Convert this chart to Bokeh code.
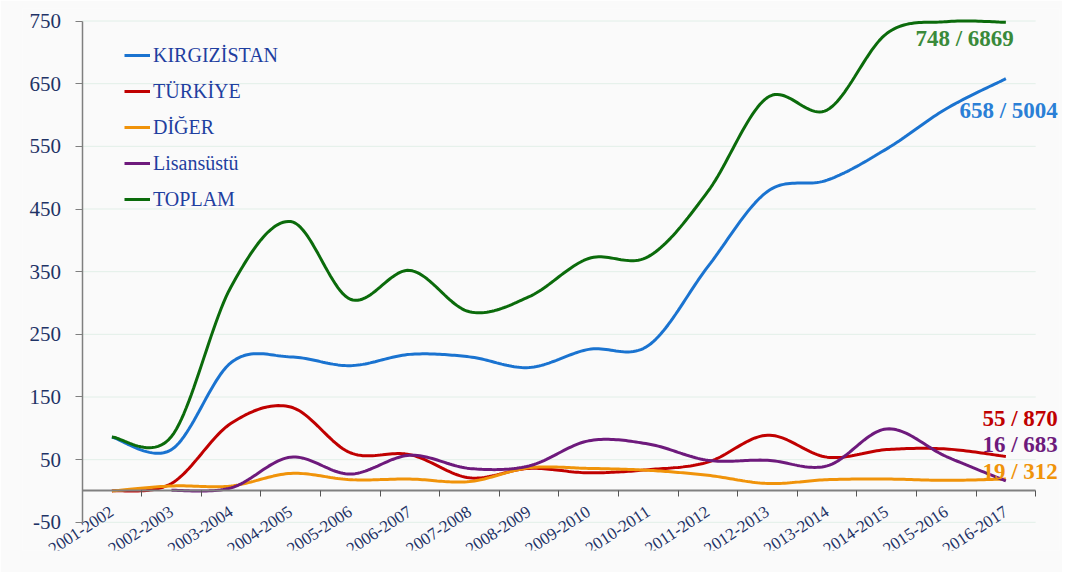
import numpy as np
from bokeh.plotting import figure
from bokeh.models import FixedTicker, Legend, LegendItem, Label, ColumnDataSource
from bokeh.embed import file_html
from bokeh.resources import INLINE

years = ["2001-2002", "2002-2003", "2003-2004", "2004-2005", "2005-2006", "2006-2007",
         "2007-2008", "2008-2009", "2009-2010", "2010-2011", "2011-2012", "2012-2013",
         "2013-2014", "2014-2015", "2015-2016", "2016-2017"]

kirgizistan = [86, 66, 205, 214, 200, 218, 214, 197, 226, 232, 358, 478, 496, 546, 610, 658]
turkiye = [0, 12, 108, 134, 61, 58, 21, 36, 29, 34, 46, 89, 54, 66, 67, 55]
diger = [0, 8, 8, 28, 18, 19, 15, 37, 36, 33, 25, 12, 18, 19, 17, 19]
lisansustu = [None, 1, 5, 54, 27, 57, 36, 40, 80, 75, 49, 49, 40, 99, 55, 16]
toplam = [86, 87, 326, 430, 306, 352, 286, 310, 371, 374, 478, 628, 608, 730, 749, 748]

series_names = ["KIRGIZİSTAN", "TÜRKİYE", "DİĞER", "Lisansüstü", "TOPLAM"]
series_totals = [5004, 870, 312, 683, 6869]
line_colors = ["#1a73d0", "#c00000", "#f0930a", "#6e1a7c", "#0b6b0b"]
label_colors = ["#2a7fd6", "#c00000", "#f0930a", "#6e1a7c", "#3a8a3a"]
label_offsets = [(52, -32), (52, 38), (52, 8), (52, 36), (8, -16)]

yticks = list(range(-50, 751, 100))
SERIF = "'Liberation Serif'"


def smooth(xs, ys, n=24):
    pts = [(x, y) for x, y in zip(xs, ys) if y is not None]
    px = np.array([p[0] for p in pts], float)
    py = np.array([p[1] for p in pts], float)
    m = len(px)
    ox, oy = [], []
    for i in range(m - 1):
        i0 = i - 1 if i > 0 else i
        i3 = i + 2 if i + 2 < m else i + 1
        x0, x1, x2, x3 = px[i0], px[i], px[i + 1], px[i3]
        y0, y1, y2, y3 = py[i0], py[i], py[i + 1], py[i3]
        c1x, c1y = x1 + (x2 - x0) / 6, y1 + (y2 - y0) / 6
        c2x, c2y = x2 - (x3 - x1) / 6, y2 - (y3 - y1) / 6
        t = np.linspace(0, 1, n, endpoint=(i == m - 2))
        a, b, c, d = (1 - t) ** 3, 3 * t * (1 - t) ** 2, 3 * t ** 2 * (1 - t), t ** 3
        ox.extend(a * x1 + b * c1x + c * c2x + d * x2)
        oy.extend(a * y1 + b * c1y + c * c2y + d * y2)
    return ox, oy


xs = list(range(len(years)))
x_lo, x_hi = xs[0] - 0.5, xs[-1] + 0.5

p = figure(width=1062, height=572, output_backend="svg", toolbar_location=None,
           x_range=(xs[0] - 1.5, xs[-1] + 0.9), y_range=(-95, 770),
           min_border_left=22, min_border_top=8, min_border_right=3, min_border_bottom=22)
p.background_fill_color = "#fafafa"
p.border_fill_color = "#fafafa"
p.outline_line_color = None

# horizontal grid lines limited to the category span
p.segment(x0=[x_lo] * len(yticks), x1=[x_hi] * len(yticks), y0=yticks, y1=yticks,
          line_color="#e2efe8", line_width=1)
p.xgrid.visible = False
p.ygrid.visible = False

all_series = [kirgizistan, turkiye, diger, lisansustu, toplam]
renderers = []
for vals, col in zip(all_series, line_colors):
    sx, sy = smooth(xs, vals)
    src = ColumnDataSource(dict(x=sx, y=sy))
    r = p.line("x", "y", source=src, line_color=col, line_width=3)
    renderers.append(r)

# y axis at the left edge of the category span
p.yaxis.fixed_location = x_lo
p.yaxis.ticker = FixedTicker(ticks=yticks)
p.yaxis.major_label_overrides = {t: str(t) for t in yticks}
p.yaxis.bounds = (yticks[0], yticks[-1])
p.yaxis.axis_line_color = "#7f7f7f"
p.yaxis.axis_line_width = 1.5
p.yaxis.major_tick_line_color = "#7f7f7f"
p.yaxis.major_tick_out = 7
p.yaxis.major_tick_in = 0
p.yaxis.minor_tick_line_color = None
p.yaxis.major_label_text_font = SERIF
p.yaxis.major_label_text_font_size = "21px"
p.yaxis.major_label_text_color = "#1f3366"
p.yaxis.major_label_standoff = 14

# x axis at y = 0
p.xaxis.fixed_location = 0
p.xaxis.bounds = (x_lo, x_hi)
p.xaxis.ticker = FixedTicker(ticks=xs, minor_ticks=[k - 0.5 for k in range(len(years) + 1)])
p.xaxis.major_label_overrides = {i: y for i, y in enumerate(years)}
p.xaxis.major_label_orientation = 0.58
p.xaxis.major_tick_out = 0
p.xaxis.major_tick_in = 0
p.xaxis.minor_tick_out = 6
p.xaxis.minor_tick_in = 0
p.xaxis.minor_tick_line_color = "#555555"
p.xaxis.axis_line_color = "#808080"
p.xaxis.axis_line_width = 2
p.xaxis.major_label_text_font = SERIF
p.xaxis.major_label_text_font_size = "17px"
p.xaxis.major_label_text_color = "#1f3366"
p.xaxis.major_label_standoff = 13

legend = Legend(items=[LegendItem(label=n, renderers=[r]) for n, r in zip(series_names, renderers)],
                location=(102, 339), border_line_alpha=0, background_fill_alpha=0,
                label_text_font=SERIF, label_text_font_size="20px",
                label_text_color="#1f3fa0", glyph_width=26, glyph_height=24,
                label_height=24, spacing=12, padding=0, margin=0, label_standoff=3)
p.add_layout(legend)

for vals, tot, col, (dx, dy) in zip(all_series, series_totals, label_colors, label_offsets):
    last = vals[-1]
    p.add_layout(Label(x=xs[-1], y=last, text=f"{last} / {tot}", x_offset=dx, y_offset=dy,
                       text_align="right", text_baseline="middle",
                       text_font=SERIF, text_font_style="bold",
                       text_font_size="23px", text_color=col))

open("out.html", "w").write(file_html(p, INLINE))
